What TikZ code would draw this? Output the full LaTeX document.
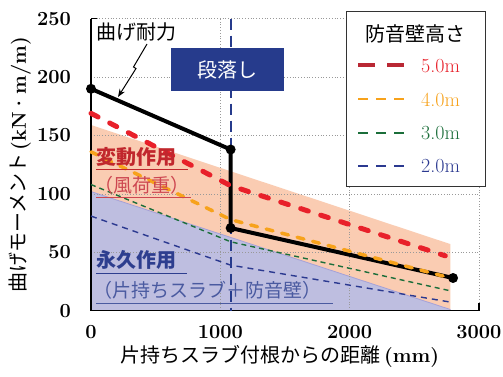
\documentclass[tikz,border=0pt]{standalone}
\usepackage{fontspec}
\newfontfamily\jp{Noto Sans CJK JP}
\usetikzlibrary{arrows.meta}
\definecolor{bandfill}{RGB}{250,204,178}
\definecolor{permfill}{RGB}{190,190,224}
\definecolor{permedge}{RGB}{165,160,215}
\definecolor{cred}{RGB}{232,32,42}
\definecolor{cdred}{RGB}{185,40,52}
\definecolor{corange}{RGB}{247,162,27}
\definecolor{cgreen}{RGB}{27,110,58}
\definecolor{cblue}{RGB}{43,57,144}
\definecolor{cnavy}{RGB}{38,59,140}
\definecolor{vartext}{RGB}{193,39,45}
\definecolor{vartext2}{RGB}{205,70,80}
\definecolor{permtext}{RGB}{46,62,143}
\definecolor{permtext2}{RGB}{74,90,160}
\begin{document}
\begin{tikzpicture}[x=1pt,y=-1pt,
  gridline/.style={gray!80, dotted, line width=0.8pt},
  axisline/.style={black, line width=1.4pt},
  resline/.style={black, line width=4pt, line join=round},
  resdot/.style={circle, fill=black, inner sep=0pt, minimum size=10pt},
  l5/.style={cred, line width=5pt, line cap=round, dash pattern=on 8pt off 13pt},
  l4/.style={corange, line width=3.5pt, line cap=round, dash pattern=on 7pt off 9pt},
  l3/.style={cgreen, line width=1.4pt, dash pattern=on 5pt off 4pt},
  l2/.style={cblue, line width=1.4pt, dash pattern=on 6pt off 5pt},
  ticklab/.style={font=\bfseries\fontsize{20}{22}\selectfont, inner sep=0pt},
  jptext/.style={font=\jp\fontsize{19}{21}\selectfont, inner sep=0pt},
  legtext/.style={font=\fontsize{20}{22}\selectfont, inner sep=0pt, anchor=west}
]
\useasboundingbox (0,0) rectangle (503,376);
\fill[white] (0,0) rectangle (503,376);

\begin{scope}[shift={(91pt,-310.7pt)}, x=0.1293pt, y=1.168pt]
  % areas
  \coordinate (p0) at (0,0);
  \coordinate (p1) at (0,102);
  \coordinate (p2) at (2780,1);
  \coordinate (p3) at (2780,0);
  \coordinate (b1) at (0,159);
  \coordinate (b2) at (2780,57);
  \fill[bandfill] (p1) -- (b1) -- (b2) -- (p2) -- cycle;
  \fill[permfill] (p0) -- (p1) -- (p2) -- (p3) -- cycle;
  \draw[permedge, line width=0.8pt] (p1) -- (p2);
  % grid
  \foreach \gx in {1000,2000,3000}{
    \coordinate (gxa\gx) at (\gx,0);
    \coordinate (gxb\gx) at (\gx,250);
    \draw[gridline] (gxa\gx) -- (gxb\gx);
  }
  \foreach \gy in {50,100,150,200,250}{
    \coordinate (gya\gy) at (0,\gy);
    \coordinate (gyb\gy) at (3000,\gy);
    \draw[gridline] (gya\gy) -- (gyb\gy);
  }
  % axes
  \coordinate (o) at (0,0);
  \coordinate (ytop) at (0,250);
  \coordinate (xend) at (3000,0);
  \draw[axisline] (ytop) -- (o) -- (xend);
  \draw[axisline] (ytop) -- ++(6pt,0pt);
  \draw[axisline] (xend) -- ++(0pt,8pt);
  % tick labels
  \foreach \gy in {0,50,100,150,200,250}{
    \node[ticklab, anchor=east] (yt\gy) at ([xshift=-20pt]0,\gy) {\gy};
  }
  \foreach \gx in {0,1000,2000,3000}{
    \node[ticklab] (xt\gx) at ([yshift=-21pt]\gx,0) {\gx};
  }
  % step line (vertical dashed)
  \coordinate (s0) at (1080,0);
  \coordinate (s1) at (1080,250);
  \draw[cnavy, line width=2.2pt, dash pattern=on 11pt off 6pt] (s1) -- (s0);
  % bending resistance
  \coordinate (r0) at (0,190);
  \coordinate (r1) at (1080,138);
  \coordinate (r2) at (1080,70.8);
  \coordinate (r3) at (2800,28);
  \draw[resline] (r0) -- (r1) -- (r2) -- (r3);
  % height lines
  \coordinate (c2a) at (0,81);   \coordinate (c2b) at (1080,39); \coordinate (c2c) at (2800,7);
  \coordinate (c3a) at (0,108);  \coordinate (c3b) at (1080,59); \coordinate (c3c) at (2780,17);
  \coordinate (c4a) at (0,136);  \coordinate (c4b) at (1080,78); \coordinate (c4c) at (2780,28);
  \coordinate (c5a) at (0,169);  \coordinate (c5b) at (1080,107); \coordinate (c5c) at (2740,47);
  \draw[l2] (c2a) -- (c2b) -- (c2c);
  \draw[l3] (c3a) -- (c3b) -- (c3c);
  \draw[l4] (c4a) -- (c4b) -- (c4c);
  \draw[l5] (c5a) -- (c5b) -- (c5c);
  % dots
  \node[resdot] (d0) at (r0) {};
  \node[resdot] (d1) at (r1) {};
  \node[resdot] (d2) at (r2) {};
  \node[resdot] (d3) at (r3) {};
\end{scope}

% step box
\node[fill=cnavy, minimum width=113pt, minimum height=42.5pt, inner sep=0pt,
      text=white, font=\jp\fontsize{20}{22}\selectfont] (dan) at (227.3,69.5) {段落し};

% bending label and lightning arrow
\node[jptext, font=\jp\fontsize{20}{22}\selectfont, anchor=west] (mage) at (96,32) {曲げ耐力};
\coordinate (ar0) at (147,44);
\coordinate (ar1) at (133.5,67);
\coordinate (ar2) at (136,68.5);
\coordinate (ar3) at (118,97);
\draw[black, line width=1pt, -{Stealth[length=8pt,width=6pt]}] (ar0) -- (ar1) -- (ar2) -- (ar3);

% area labels
\node[jptext, text=vartext, font=\jp\bfseries\fontsize{20}{22}\selectfont, anchor=west] (var1) at (96,157) {変動作用};
\coordinate (u1a) at (96,169.5); \coordinate (u1b) at (188,169.5);
\draw[vartext, line width=1pt] (u1a) -- (u1b);
\node[jptext, text=vartext2, anchor=west] (var2) at (94,185) {（風荷重）};
\coordinate (u2a) at (96,197.5); \coordinate (u2b) at (191,197.5);
\draw[vartext2, line width=1pt] (u2a) -- (u2b);
\node[jptext, text=permtext, font=\jp\bfseries\fontsize{20}{22}\selectfont, anchor=west] (per1) at (96,259.5) {永久作用};
\coordinate (u3a) at (96,273); \coordinate (u3b) at (187,273);
\draw[permtext, line width=1pt] (u3a) -- (u3b);
\node[jptext, text=permtext2, anchor=west] (per2) at (93,290) {（片持ちスラブ＋防音壁）};
\coordinate (u4a) at (96,303.5); \coordinate (u4b) at (333,303.5);
\draw[permtext2, line width=1pt] (u4a) -- (u4b);

% legend
\node[draw=black!80, fill=white, line width=0.9pt, minimum width=139pt, minimum height=175pt, inner sep=0pt] (leg) at (416.2,99.2) {};
\node[jptext, font=\jp\fontsize{20}{22}\selectfont] (legt) at (415.7,33.5) {防音壁高さ};
\coordinate (k5a) at (358,65); \coordinate (k5b) at (404,65);
\coordinate (k4a) at (358,99); \coordinate (k4b) at (404,99);
\coordinate (k3a) at (358,133); \coordinate (k3b) at (404,133);
\coordinate (k2a) at (358,165.5); \coordinate (k2b) at (404,165.5);
\draw[cdred, line width=4pt, dash pattern=on 17pt off 12pt] (k5a) -- (k5b);
\draw[corange, line width=2pt, dash pattern=on 10pt off 8pt] (k4a) -- (k4b);
\draw[cgreen, line width=2pt, dash pattern=on 10pt off 8pt] (k3a) -- (k3b);
\draw[cblue, line width=2pt, dash pattern=on 10pt off 8pt] (k2a) -- (k2b);
\node[legtext, text=cred] (g5) at (421,66.5) {5.0m};
\node[legtext, text=corange] (g4) at (421,100) {4.0m};
\node[legtext, text=cgreen] (g3) at (421,133.5) {3.0m};
\node[legtext, text=cblue] (g2) at (421,166) {2.0m};

% axis titles
\node[rotate=90, inner sep=0pt, font=\fontsize{20}{22}\selectfont] (ylab) at (20,165) {{\jp 曲げモーメント}\,\textbf{(kN·m/m)}};
\node[inner sep=0pt, font=\fontsize{20}{22}\selectfont] (xlab) at (280,356) {{\jp 片持ちスラブ付根からの距離}\,\textbf{(mm)}};
\end{tikzpicture}
\end{document}
